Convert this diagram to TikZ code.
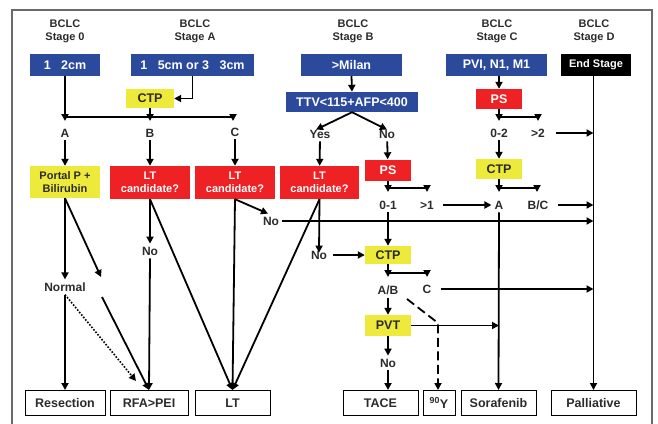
\documentclass[tikz,border=0pt]{standalone}
\usepackage{fontspec}
\setmainfont{Liberation Sans}
\usetikzlibrary{arrows.meta}
\definecolor{txt}{HTML}{2B2B2B}
\definecolor{cblue}{HTML}{2C4A9C}
\definecolor{cred}{HTML}{EE2124}
\definecolor{cyel}{HTML}{EEEA3C}
\definecolor{frame}{HTML}{6A6A6A}
\tikzset{
  lbl/.style={font=\fontsize{12}{13}\selectfont\bfseries, text=txt, inner sep=3pt},
  hdr/.style={font=\fontsize{11}{13}\selectfont\bfseries, text=txt, align=center, inner sep=0pt},
  bx/.style={inner sep=0pt, font=\fontsize{12.5}{14}\selectfont\bfseries, align=center},
  sbx/.style={inner sep=0pt, font=\fontsize{11}{12.5}\selectfont\bfseries, align=center},
  bluebox/.style={bx, fill=cblue, text=white},
  redbox/.style={bx, fill=cred, text=white},
  ybox/.style={bx, fill=cyel, text=txt},
  outbox/.style={bx, draw=black, line width=1pt, text=txt, minimum height=25pt},
  ln/.style={line width=1.8pt, draw=black},
  arr/.style={ln, -{Triangle[length=7pt,width=7pt]}},
}
\begin{document}
\begin{tikzpicture}[x=1pt,y=-1pt]
\useasboundingbox (0,0) rectangle (658,423);
\draw[frame, line width=1.2pt] (12,425) -- (12,10) -- (652,10) -- (652,425);

% headers
\node[hdr] (h0) at (65,31.5) {BCLC\\Stage 0};
\node[hdr] (hA) at (195,31.5) {BCLC\\Stage A};
\node[hdr] (hB) at (353,31.5) {BCLC\\Stage B};
\node[hdr] (hC) at (497,31.5) {BCLC\\Stage C};
\node[hdr] (hD) at (594,31.5) {BCLC\\Stage D};

% top boxes
\node[bluebox, minimum width=70pt, minimum height=22pt] (b0) at (65,65) {1\ \ \ 2cm};
\node[bluebox, minimum width=123pt, minimum height=22pt] (bA) at (192.5,65) {1\ \ \ 5cm or 3\ \ \ 3cm};
\node[bluebox, minimum width=101pt, minimum height=22pt] (bB) at (351.5,65) {>Milan};
\node[bluebox, minimum width=101pt, minimum height=22pt] (bC) at (496.5,65) {PVI, N1, M1};
\node[sbx, fill=black, text=white, minimum width=70pt, minimum height=22pt] (bD) at (596,65) {End Stage};

% second row
\node[ybox, minimum width=48pt, minimum height=19pt] (ctpA) at (150,98.5) {CTP};
\node[bluebox, minimum width=132pt, minimum height=20pt] (ttv) at (352,102) {TTV<115+AFP<400};
\node[redbox, minimum width=46pt, minimum height=20pt] (psC) at (499,99) {PS};

\node[lbl] (lA) at (65,133) {A};
\node[lbl] (lB) at (150,133) {B};
\node[lbl] (lC) at (235,132) {C};
\node[lbl] (yes) at (320,134) {Yes};
\node[lbl] (noB) at (387,134) {No};
\node[lbl] (l02) at (499,133) {0-2};
\node[lbl] (lgt2) at (538,133) {>2};

% third row
\node[sbx, fill=cyel, text=txt, minimum width=70pt, minimum height=32pt] (portal) at (65,182) {Portal P +\\Bilirubin};
\node[sbx, fill=cred, text=white, minimum width=80pt, minimum height=33pt] (ltB) at (150,182.5) {LT\\candidate?};
\node[sbx, fill=cred, text=white, minimum width=80pt, minimum height=33pt] (ltC) at (235,182.5) {LT\\candidate?};
\node[sbx, fill=cred, text=white, minimum width=79pt, minimum height=33pt] (ltY) at (319.5,182.5) {LT\\candidate?};
\node[redbox, minimum width=46pt, minimum height=21pt] (psB) at (388,170) {PS};
\node[ybox, minimum width=46pt, minimum height=20pt] (ctpC) at (499,169) {CTP};

\node[lbl] (l01) at (388,205) {0-1};
\node[lbl] (lgt1) at (427,205) {>1};
\node[lbl] (lAc) at (499,205) {A};
\node[lbl] (lBC) at (538,205) {B/C};

\node[lbl] (noC) at (271,221) {No};
\node[lbl] (noLTB) at (150,251) {No};
\node[lbl] (noY) at (319,255) {No};
\node[ybox, minimum width=46pt, minimum height=18pt] (ctpB) at (388,255) {CTP};

\node[lbl] (normal) at (65,287) {Normal};
\node[lbl] (lAB) at (388,290) {A/B};
\node[lbl] (lCc) at (427,289) {C};
\node[ybox, minimum width=46pt, minimum height=21pt] (pvt) at (388,325.5) {PVT};
\node[lbl] (noP) at (388,363) {No};

% bottom boxes
\node[outbox, minimum width=80pt] (resec) at (65,403) {Resection};
\node[outbox, minimum width=78pt] (rfa) at (149,403) {RFA>PEI};
\node[outbox, minimum width=75pt] (lt) at (232.5,403) {LT};
\node[outbox, minimum width=75pt] (tace) at (380.5,403) {TACE};
\node[outbox, minimum width=32pt] (y90) at (439,403) {\textsuperscript{90}Y};
\node[outbox, minimum width=75pt] (soraf) at (498.5,403) {Sorafenib};
\node[outbox, minimum width=85pt] (pall) at (593.5,403) {Palliative};

% Stage 0 / A split
\draw[arr] (b0.south) -- (65,121);
\draw[arr] (ctpA.south) -- (150,121);
\draw[arr] (65,117) -| (233,121);
\draw[arr] (bA.south) |- (ctpA.east);
\draw[arr] (lA) -- (portal);
\draw[arr] (lB) -- (ltB);
\draw[arr] (lC) -- (ltC);

% Stage 0 paths
\coordinate (d1) at (101,277);
\coordinate (d2) at (102,297);
\coordinate (dt) at (136,381);
\draw[arr] (portal.south) -- (normal.north);
\draw[arr] (portal.south) -- (d1);
\draw[arr] (d2) -- (rfa.north);
\draw[arr] (normal.south) -- (resec.north);
\draw[ln, line width=1.6pt, dash pattern=on 1.6pt off 1.6pt, -{Triangle[length=7pt,width=7pt]}] (normal.south) -- (dt);

% Stage A paths
\draw[arr] (ltB.south) -- (noLTB.north);
\draw[arr] (noLTB.south) -- (rfa.north);
\draw[arr] (ltB.south) -- (lt.north);
\draw[arr] (ltC.south) -- (lt.north);
\draw[arr] (ltY.south) -- (lt.north);
\draw[arr] (ltC.south) -- ([xshift=-3pt]noC.north);
\draw[arr] (noC.east) -- (noC.east -| pall.north);

% Stage B
\draw[arr] (bB.south) -- (ttv.north);
\draw[arr] (ttv.south) -- ([xshift=-4pt,yshift=-3pt]yes.north);
\draw[arr] (ttv.south) -- ([yshift=-3pt]noB.north);
\draw[arr] (yes) -- (ltY);
\draw[arr] (noB) -- (psB);
\draw[arr] (psB.south) -- (388,192);
\draw[arr] (388,188) -| (427,192);
\draw[arr] ([xshift=6pt]lgt1.east) -- (lAc.west);
\draw[arr] (l01) -- (ctpB);
\draw[arr] (ltY.south) -- ([yshift=-5pt]noY.north);
\draw[arr] ([xshift=3pt]noY.east) -- (ctpB.west);
\draw[arr] (ctpB.south) -- (388,277);
\draw[arr] (388,273) -| (427,277);
\draw[arr] ([xshift=6pt]lCc.east) -- (lCc.east -| pall.north);
\draw[arr] (lAB) -- (pvt);
\draw[arr] (pvt.east) -- (pvt.east -| lAc);
\draw[arr] (pvt) -- (noP);
\draw[arr] (noP.south) -- (noP.south |- tace.north);
\coordinate (ds) at (407,299);
\coordinate (dk) at (438,323);
\draw[ln, dash pattern=on 9pt off 4.5pt, -{Triangle[length=7pt,width=7pt]}] (ds) -- (dk) -- (dk |- y90.north);

% Stage C
\draw[arr] (bC.south -| psC) -- (psC.north);
\draw[arr] (psC.south) -- (499,121);
\draw[arr] (499,117) -| (538,121);
\draw[arr] ([xshift=8pt]lgt2.east) -- (lgt2.east -| pall.north);
\draw[arr] (l02) -- (ctpC);
\draw[arr] (ctpC.south) -- (499,192);
\draw[arr] (499,188) -| (537,192);
\draw[arr] ([xshift=6pt]lBC.east) -- (lBC.east -| pall.north);
\draw[arr] (lAc.south) -- (soraf.north);

% Stage D
\draw[arr] (bD.south -| pall.north) -- (pall.north);
\end{tikzpicture}
\end{document}
